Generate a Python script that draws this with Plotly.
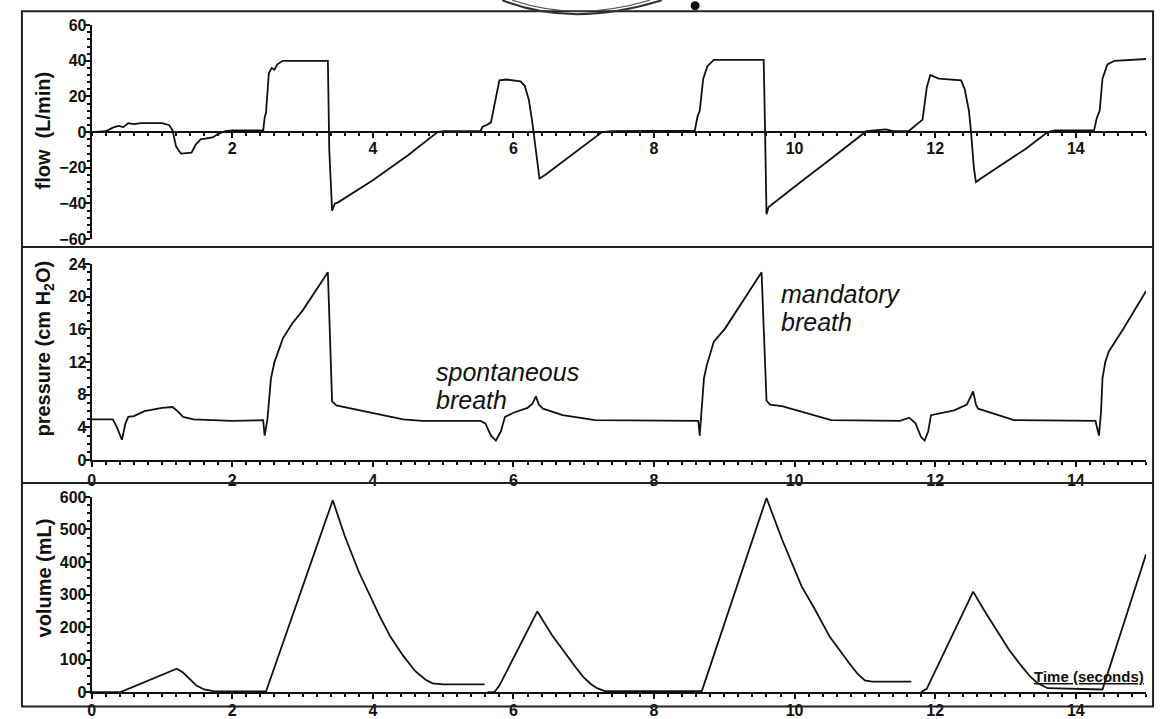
import plotly.graph_objects as go

# ---------------- data: ventilator waveforms (time in seconds) ----------------
flow_t = [0.0, 0.2, 0.3, 0.38, 0.45, 0.52, 0.6, 0.7, 1.0, 1.1, 1.15, 1.2, 1.27, 1.42,
          1.48, 1.55, 1.72, 1.8, 1.9, 2.0, 2.44, 2.46, 2.48, 2.52, 2.56, 2.6, 2.64,
          2.72, 3.36, 3.38, 3.42, 3.46, 3.5, 4.0, 4.5, 4.92, 5.0, 5.53, 5.56, 5.62,
          5.68, 5.75, 5.8, 5.9, 6.1, 6.16, 6.22, 6.27, 6.32, 6.37, 6.45, 7.26, 7.4,
          8.58, 8.62, 8.65, 8.7, 8.76, 8.85, 9.56, 9.58, 9.6, 9.63, 9.82, 10.1, 10.5,
          11.0, 11.02, 11.3, 11.4, 11.62, 11.75, 11.82, 11.88, 11.93, 12.05, 12.37,
          12.42, 12.48, 12.51, 12.55, 12.58, 12.65, 13.3, 13.6, 13.7, 14.26, 14.3,
          14.34, 14.38, 14.45, 14.55, 15.0]
flow_v = [0, 0.5, 2.5, 3.5, 2.8, 5, 4.5, 5, 5, 4, 1, -8, -12, -11.5,
          -7, -4, -3, -1, 0.5, 1, 1, 8, 11, 33, 36, 35, 38,
          40, 40, -10, -44, -40, -39.5, -27, -13, 0, 0.5, 0.5, 3, 4,
          5.5, 20, 29, 29.5, 28.5, 26, 18, 5, -10, -26, -24, 0, 0.5,
          0.8, 9, 12, 30, 37, 40.5, 40.5, 0, -46, -42, -36, -27.5, -15.5,
          0, 0.5, 1.5, 0.5, 0.5, 5, 7, 25, 32, 30, 29,
          24, 12, 0, -20, -28, -26, -9, 0, 1, 1, 8,
          12, 30, 38, 40, 41]

pres_t = [0.0, 0.3, 0.36, 0.43, 0.48, 0.52, 0.6, 0.75, 1.0, 1.15, 1.22, 1.3, 1.45,
          2.0, 2.44, 2.46, 2.5, 2.52, 2.55, 2.6, 2.66, 2.72, 2.85, 3.0, 3.36, 3.42,
          3.48, 4.0, 4.43, 4.7, 5.53, 5.6, 5.68, 5.75, 5.82, 5.88, 6.0, 6.2, 6.27,
          6.32, 6.36, 6.42, 6.7, 7.16, 8.63, 8.65, 8.68, 8.71, 8.75, 8.85, 9.01, 9.53,
          9.6, 9.65, 9.82, 10.52, 11.5, 11.63, 11.72, 11.8, 11.85, 11.9, 11.94, 12.27,
          12.45, 12.54, 12.58, 12.61, 12.9, 13.12, 14.28, 14.33, 14.36, 14.38, 14.42,
          14.47, 14.68, 15.0]
pres_v = [5, 5, 4, 2.5, 4.5, 5.3, 5.4, 6, 6.4, 6.5, 6, 5.3, 5,
          4.8, 4.9, 3, 5, 7.5, 10, 12, 13.6, 14.9, 16.7, 18.3, 23, 7.2,
          6.7, 5.8, 5, 4.8, 4.8, 4.5, 3, 2.4, 3.5, 5.3, 5.8, 6.4, 6.9,
          7.8, 6.8, 6.3, 5.5, 4.9, 4.8, 3, 6.5, 10, 11.6, 14.5, 16.1, 23,
          7.3, 6.8, 6.6, 4.9, 4.8, 5.2, 4.5, 2.8, 2.4, 3.5, 5.5, 6.1,
          6.8, 8.4, 6.8, 6.3, 5.5, 4.9, 4.8, 3, 6, 10, 12,
          13.3, 16.1, 20.7]

# None marks the reset of the volume integrator between breaths
vol_t = [0.0, 0.41, 1.21, 1.3, 1.49, 1.6, 1.73, 2.48, 3.43, 3.6, 3.8, 3.96, 4.1,
         4.25, 4.43, 4.6, 4.75, 4.85, 5.0, 5.59, None, 5.63, 5.73, 5.8, 6.34, 6.55,
         6.79, 6.9, 7.0, 7.1, 7.19, 7.3, 8.68, 9.6, 9.82, 10.1, 10.29, 10.5, 10.77,
         10.9, 11.0, 11.1, 11.66, None, 11.8, 11.88, 12.54, 12.7, 12.9, 13.05, 13.22,
         13.35, 13.46, 13.6, 14.38, 15.0]
vol_v = [0, 0, 72, 60, 20, 8, 3, 2, 590, 480, 370, 294, 232,
         170, 112, 65, 38, 27, 24, 24, None, 0, 0, 20, 248, 175,
         103, 72, 45, 25, 12, 3, 3, 597, 470, 325, 254, 170, 91,
         55, 36, 32, 32, None, 0, 10, 309, 250, 182, 130, 82,
         48, 27, 12, 8, 424]

time_ticks = [0, 2, 4, 6, 8, 10, 12, 14]
flow_ticks = [-60, -40, -20, 0, 20, 40, 60]
pres_ticks = [0, 4, 8, 12, 16, 20, 24]
vol_ticks = [0, 100, 200, 300, 400, 500, 600]

# ---------------- layout geometry ----------------
W, H = 1166, 719
# vertical placement: window rows map onto figure rows with an 8px top offset
# and a slight vertical squeeze, so rows are converted before use
ROW_OFFSET, ROW_SCALE = 7.8, 0.978


def px(x):
    return x / W


def py(y):
    fig_row = (y - ROW_OFFSET) / ROW_SCALE
    return 1 - fig_row / H


X_DOM = [px(88), px(1146)]
TOP_DOM = [py(240), py(25)]
MID_DOM = [py(462), py(265)]
BOT_DOM = [py(695), py(499)]

INK = "#111111"
TICK_FONT = dict(family="Liberation Sans", size=16, color=INK, weight="bold")
line_style = dict(color=INK, width=1.8)

fig = go.Figure()
fig.add_trace(go.Scatter(x=flow_t, y=flow_v, mode="lines", line=line_style,
                         xaxis="x", yaxis="y", showlegend=False))
fig.add_trace(go.Scatter(x=pres_t, y=pres_v, mode="lines", line=line_style,
                         xaxis="x2", yaxis="y2", showlegend=False))
fig.add_trace(go.Scatter(x=vol_t, y=vol_v, mode="lines", line=line_style,
                         xaxis="x3", yaxis="y3", showlegend=False, connectgaps=False))


def time_axis(anchor, position=None, ticks=None, standoff=0):
    ax = dict(domain=X_DOM, range=[0, 15], showline=True, linecolor=INK, linewidth=2,
              ticks="outside", ticklen=5, tickwidth=2, tickcolor=INK,
              tickmode="array", tickvals=ticks or time_ticks,
              tickfont=TICK_FONT, showgrid=False, zeroline=False, fixedrange=True,
              ticklabelstandoff=standoff,
              minor=dict(dtick=0.2, tick0=0, ticks="outside", ticklen=3,
                         tickwidth=1.5, tickcolor=INK, showgrid=False))
    if position is None:
        ax["anchor"] = anchor
    else:
        ax["anchor"] = "free"
        ax["position"] = position
    return ax


def value_axis(dom, rng, ticks, minor_step, anchor):
    return dict(domain=dom, range=rng, anchor=anchor, showline=True, linecolor=INK,
                linewidth=2, ticks="outside", ticklen=5, tickwidth=2, tickcolor=INK,
                tickmode="array", tickvals=ticks, tickfont=TICK_FONT,
                showgrid=False, zeroline=False, fixedrange=True,
                ticklabelstandoff=-5,
                minor=dict(dtick=minor_step, tick0=0, ticks="outside", ticklen=3,
                           tickwidth=1.5, tickcolor=INK, showgrid=False))


fig.update_layout(
    width=W, height=H,
    margin=dict(l=0, r=0, t=0, b=0),
    paper_bgcolor="white", plot_bgcolor="white",
    font=dict(family="Liberation Sans", color=INK),
    xaxis=time_axis("y", position=(TOP_DOM[0] + TOP_DOM[1]) / 2,
                    ticks=[t for t in time_ticks if t != 0], standoff=-3),
    yaxis=value_axis(TOP_DOM, [-60, 60], flow_ticks, 4, "x"),
    xaxis2=time_axis("y2"),
    yaxis2=value_axis(MID_DOM, [0, 24], pres_ticks, 1, "x2"),
    xaxis3=time_axis("y3", standoff=-2),
    yaxis3=value_axis(BOT_DOM, [0, 600], vol_ticks, 25, "x3"),
)

# ---------------- axis titles and labels ----------------
title_font = dict(family="Liberation Sans", size=20, color=INK, weight="bold")
note_font = dict(family="Liberation Sans", size=25, color=INK, style="italic")
annotations = [
    dict(text="flow  (L/min)", x=px(39), y=py(131), textangle=-90, font=title_font),
    dict(text="pressure (cm H<sub>2</sub>O)", x=px(41), y=py(350), textangle=-90, font=title_font),
    dict(text="volume (mL)", x=px(40), y=py(580), textangle=-90, font=title_font),
    dict(text="spontaneous", x=px(431), y=py(373.5), xanchor="left", font=note_font),
    dict(text="breath", x=px(431), y=py(402), xanchor="left", font=note_font),
    dict(text="mandatory", x=px(778), y=py(295), xanchor="left", font=note_font),
    dict(text="breath", x=px(778), y=py(323), xanchor="left", font=note_font),
    dict(text="<u>Time (seconds)</u>", x=px(1146), y=py(679), xanchor="right",
         font=dict(family="Liberation Sans", size=15, color=INK, weight="bold")),
]
for a in annotations:
    a.update(xref="paper", yref="paper", showarrow=False)
    a.setdefault("xanchor", "center")
    a.setdefault("yanchor", "middle")
fig.update_layout(annotations=annotations)

# ---------------- panel frame and page edge ----------------
frame = dict(color="#222222", width=2)
bottom_edge = max(py(716), 1.5 / H)
shapes = [
    dict(type="rect", x0=px(18), x1=px(1153), y0=bottom_edge, y1=py(11), line=frame),
    dict(type="line", x0=px(18), x1=px(1153), y0=py(248), y1=py(248), line=frame),
    dict(type="line", x0=px(18), x1=px(1153), y0=py(485), y1=py(485), line=frame),
    # fragment of the printed figure above (binding ring and dot)
    dict(type="path",
         path=f"M {px(500)},{py(0)} Q {px(570)},{py(28)} {px(660)},{py(0)}",
         line=dict(color="#333333", width=2)),
    dict(type="path",
         path=f"M {px(510)},{py(0)} Q {px(575)},{py(22)} {px(648)},{py(0)}",
         line=dict(color="#555555", width=1.2)),
    dict(type="circle", x0=px(689), x1=px(698), y0=py(10), y1=py(1),
         fillcolor="#111111", line=dict(width=0)),
]
for s in shapes:
    s.update(xref="paper", yref="paper")
    s.setdefault("layer", "above")
fig.update_layout(shapes=shapes)

fig.write_html("out.html")
